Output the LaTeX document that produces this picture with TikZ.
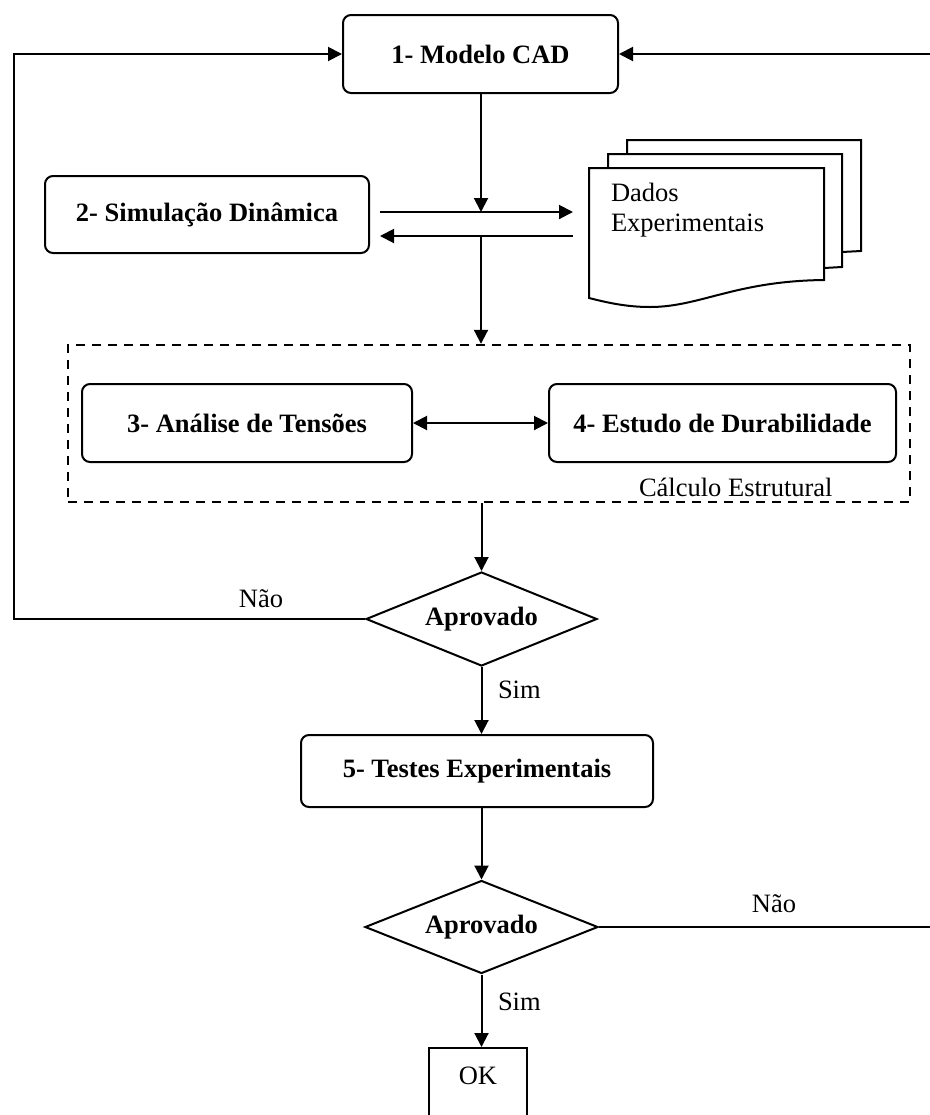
\documentclass[tikz,border=0pt]{standalone}
\usepackage{fontspec}
\setmainfont{Liberation Serif}
\usetikzlibrary{shapes.geometric, arrows.meta, calc}

\tikzset{
    every node/.style={font=\fontsize{13.25}{15}\selectfont},
    stepbox/.style={draw, rounded corners=4pt, line width=1pt, inner sep=0pt,
        font=\fontsize{13.25}{15}\selectfont\bfseries},
    decision/.style={draw, diamond, aspect=2.46, line width=1pt, inner sep=0pt,
        font=\fontsize{13.25}{15}\selectfont\bfseries},
    groupbox/.style={draw, line width=1.2pt, dash pattern=on 4.5pt off 3.5pt, inner sep=0pt},
    okbox/.style={draw, line width=1pt, inner sep=0pt, anchor=north,
        minimum width=49pt, text height=18pt, text depth=30pt},
    flowlbl/.style={inner sep=0pt}
}

\begin{document}
\begin{tikzpicture}[x=0.5pt, y=-0.5pt, line width=1pt, >={Triangle[length=7pt,width=7pt]}]
    \useasboundingbox (0,0) rectangle (930,1115);
    \clip (0,0) rectangle (930,1115);

    % Explicit Coordinates (pixel grid, y downwards)
    \coordinate (mid1)  at (481, 212);    % upper crossing
    \coordinate (mid2)  at (481, 236);    % lower crossing
    \coordinate (a1)    at (380, 212);    % to data
    \coordinate (a2)    at (573, 212);
    \coordinate (b1)    at (573, 236);    % from data
    \coordinate (b2)    at (380, 236);
    \coordinate (backL) at (14, 619);     % left return
    \coordinate (backR) at (945, 927);    % right return (off page)

    % Steps
    \node[stepbox, minimum width=137.5pt, minimum height=39pt] (cad) at (480.5,54) {1- Modelo CAD};
    \node[stepbox, minimum width=162pt, minimum height=38.5pt] (simdin) at (207,214.5) {2- Simulação Dinâmica};
    \node[groupbox, minimum width=421pt, minimum height=78.5pt] (calc) at (489,423.5) {};
    \node[stepbox, minimum width=165pt, minimum height=39pt] (ana) at (247,423) {3- Análise de Tensões};
    \node[stepbox, minimum width=173.5pt, minimum height=39pt] (dur) at (722.5,423) {4- Estudo de Durabilidade};
    \node[flowlbl, anchor=base west] (calclbl) at (638,496) {Cálculo Estrutural};
    \node[decision, minimum width=115.5pt, minimum height=47pt] (apr1) at (481.5,619) {Aprovado};
    \node[stepbox, minimum width=176pt, minimum height=36pt] (tst) at (477,771) {5- Testes Experimentais};
    \node[decision, minimum width=116.5pt, minimum height=46.5pt] (apr2) at (481.5,927) {Aprovado};
    \node[okbox] (ok) at (478,1047) {OK};

    % Data stack
    \draw (627,154) -- (627,140) -- (861,140) -- (861,251) -- (842,252);
    \draw[fill=white] (608,168) -- (608,154) -- (842,154) -- (842,267) -- (824,268);
    \draw[fill=white] (589,168) -- (824,168) -- (824,280)
        .. controls (735,281) and (700,307) .. (650,307)
        .. controls (625,307) and (605,302) .. (589,298) -- cycle;
    \node[flowlbl, anchor=north west, align=left] (dados) at (610,182) {Dados\\Experimentais};

    % Labels
    \node[flowlbl, anchor=base] (no1) at (261,607) {Não};
    \node[flowlbl, anchor=base west] (yes1) at (497,698) {Sim};
    \node[flowlbl, anchor=base] (no2) at (774,912) {Não};
    \node[flowlbl, anchor=base west] (yes2) at (497,1010) {Sim};

    % Connectors
    \draw[->] (cad.south -| mid1) -- (mid1);
    \draw[->] (a1) -- (a2);
    \draw[->] (b1) -- (b2);
    \draw[->] (mid2) -- (mid2 |- calc.north);
    \draw[<->] (ana) -- (dur);
    \draw[->] (calc.south -| apr1.north) -- (apr1.north);
    \draw[->] (apr1.south) -- (apr1.south |- tst.north);
    \draw[->] (apr1.west) -- (backL) |- (cad.west);
    \draw[->] (tst.south -| apr2.north) -- (apr2.north);
    \draw[->] (apr2.south) -- (apr2.south |- ok.north);
    \draw[->] (apr2.east) -- (backR) |- (cad.east);
\end{tikzpicture}
\end{document}
